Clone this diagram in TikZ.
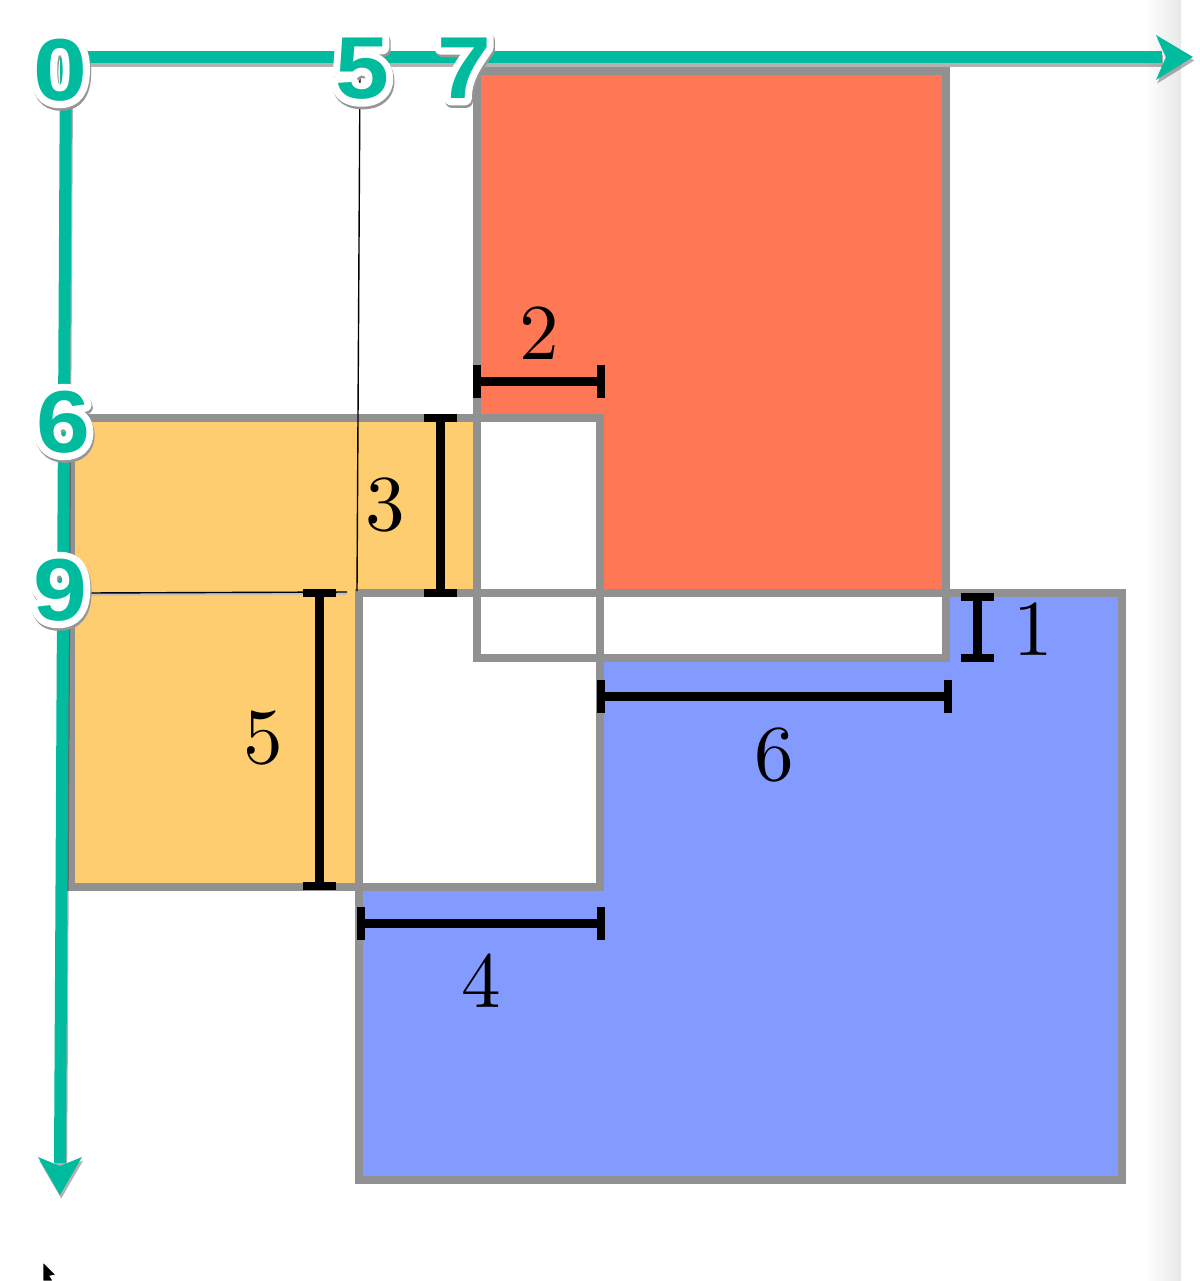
\documentclass[tikz,border=0pt]{standalone}
\usepackage{fontspec}
\newfontfamily\gfont{Liberation Sans}[FakeStretch=1.1]
\newfontfamily\dimfont{lmroman10-regular}[Extension=.otf]
\definecolor{axisgreen}{RGB}{0,187,158}
\definecolor{rectgray}{RGB}{145,145,145}
\definecolor{redfill}{RGB}{255,120,85}
\definecolor{orangefill}{RGB}{253,205,111}
\definecolor{bluefill}{RGB}{131,155,255}
\definecolor{shadowgray}{RGB}{150,150,150}
\tikzset{
  outl/.style={draw=rectgray, line width=3.75pt},
  dimline/.style={line width=4.5pt, black},
  capline/.style={line width=4pt, black},
  dimlab/.style={inner sep=0pt, font=\dimfont\fontsize{39.6}{40}\selectfont},
  glabfont/.style={inner sep=0pt, font=\gfont\bfseries\fontsize{44}{45}\selectfont},
  glab/.style={glabfont, text=axisgreen},
  ghalo/.style={glabfont, text=white},
  gshadow/.style={glabfont, text=shadowgray},
  thinline/.style={line width=0.7pt, black},
  axisfill/.style={fill=axisgreen},
  axisshadow/.style={fill=black, opacity=0.3},
}
% stroked (outline-only) text of a given width, in the current text colour
\newcommand\strokedtext[2]{\special{pdf:literal direct 1 Tr #1 w 1 j 1 J}#2\special{pdf:literal direct 0 Tr}}
\newcommand\greenlabel[3]{%
  \path (#2) ++(0.6pt,-1.3pt) node[gshadow] (#1s) {\strokedtext{7}{#3}};
  \node[ghalo] (#1h) at (#2) {\strokedtext{7}{#3}};
  \node[glab] (#1) at (#2) {#3};
}
\newcommand\capV[1]{\draw[capline] ([yshift=8.25pt]#1) -- ([yshift=-8.25pt]#1);}
\newcommand\capH[1]{\draw[capline] ([xshift=8.25pt]#1) -- ([xshift=-8.25pt]#1);}
\begin{document}
\begin{tikzpicture}[x=0.5pt,y=-0.5pt]
\useasboundingbox (0,0) rectangle (1200,1281);
\fill[white] (0,0) rectangle (1200,1281);
% right edge shading
\shade[left color=white, right color=black!9] (1145,0) rectangle (1181,1281);

% rectangle corners
\coordinate (R1) at (477,71);  \coordinate (R2) at (946,658);
\coordinate (O1) at (71,418);  \coordinate (O2) at (600,887);
\coordinate (B1) at (359,593); \coordinate (B2) at (1122,1180);

% fills
\fill[redfill] (R1) rectangle (R2);
\fill[orangefill] (O1) rectangle (O2);
\fill[bluefill] (B1) rectangle (B2);
% overlaps are white
\fill[white] (477,418) rectangle (600,658);
\fill[white] (359,593) rectangle (600,887);
\fill[white] (477,593) rectangle (946,658);
% outlines
\draw[outl] (R1) rectangle (R2);
\draw[outl] (O1) rectangle (O2);
\draw[outl] (B1) rectangle (B2);

% thin guide lines
\coordinate (t5a) at (360,72);  \coordinate (t5b) at (357,591);
\coordinate (t9a) at (85,593);  \coordinate (t9b) at (347,592);
\draw[thinline] (t5a) -- (t5b);
\draw[shadowgray!60, line width=1.2pt] ([yshift=-0.8pt]t9a) -- ([yshift=-0.8pt]t9b);
\draw[thinline] (t9a) -- (t9b);

% dimension bars
\coordinate (d2a) at (477,381); \coordinate (d2b) at (601,381);
\draw[dimline] (d2a) -- (d2b); \capV{d2a} \capV{d2b}
\coordinate (d3a) at (440,418); \coordinate (d3b) at (440,593);
\draw[dimline] (d3a) -- (d3b); \capH{d3a} \capH{d3b}
\coordinate (d5a) at (319.5,593); \coordinate (d5b) at (319.5,886);
\draw[dimline] (d5a) -- (d5b); \capH{d5a} \capH{d5b}
\coordinate (d4a) at (361,923); \coordinate (d4b) at (601,923);
\draw[dimline] (d4a) -- (d4b); \capV{d4a} \capV{d4b}
\coordinate (d6a) at (601,696); \coordinate (d6b) at (948,696);
\draw[dimline] (d6a) -- (d6b); \capV{d6a} \capV{d6b}
\coordinate (d1a) at (977,596.5); \coordinate (d1b) at (977,658);
\draw[dimline] (d1a) -- (d1b); \capH{d1a} \capH{d1b}

% dimension labels
\node[dimlab] (l2) at (539,333) {2};
\node[dimlab] (l3) at (385,505) {3};
\node[dimlab] (l5) at (263,738) {5};
\node[dimlab] (l4) at (481,981) {4};
\node[dimlab] (l6) at (774,755) {6};
\node[dimlab] (l1) at (1033,629) {1};

% axes: shadows
\begin{scope}[shift={(1.2,3.5)}]
\fill[axisshadow] (60,51) -- (1162,51) -- (1162,63) -- (60,63) -- cycle;
\fill[axisshadow] (1193,57) -- (1156,35) -- (1166,57) -- (1156,80) -- cycle;
\fill[axisshadow] (60,51) -- (72,51) -- (66,1163) -- (54,1163) -- cycle;
\fill[axisshadow] (60,1195) -- (38,1157) -- (60,1166) -- (82,1157) -- cycle;
\end{scope}
% axes
\fill[axisfill] (60,51) -- (1162,51) -- (1162,63) -- (60,63) -- cycle;
\fill[axisfill] (1193,57) -- (1156,35) -- (1166,57) -- (1156,80) -- cycle;
\fill[axisfill] (60,51) -- (72,51) -- (66,1163) -- (54,1163) -- cycle;
\fill[axisfill] (60,1195) -- (38,1157) -- (60,1166) -- (82,1157) -- cycle;

% axis labels
\greenlabel{gx0}{60,70}{0}
\greenlabel{gx5}{362,69}{5}
\greenlabel{gx7}{464,68}{7}
\greenlabel{gy6}{63,422}{6}
\greenlabel{gy9}{60,590}{9}

% mouse pointer
\fill[black, draw=white, line width=0.4pt] (43,1262) -- (56,1275) -- (50,1276) -- (53,1281) -- (43,1281) -- cycle;
\end{tikzpicture}
\end{document}
